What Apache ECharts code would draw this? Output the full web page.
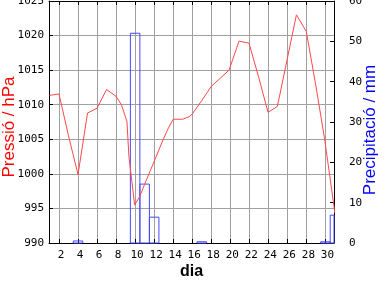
<!DOCTYPE html>
<html><head><meta charset="utf-8">
<script src="https://cdn.jsdelivr.net/npm/echarts@6/dist/echarts.min.js"></script>
<style>html,body{margin:0;padding:0;background:#fff}#c{width:384px;height:288px}</style>
</head><body><div id="c"></div>
<script>
// Pressure readings (day of month, hPa)
const pressureDays = [1,2,3,4,5,6,7,8,8.56,9.14,9.35,9.95,10.48,11,12,12.93,13.45,14,15,15.73,16.08,17,18,19,19.87,20.92,21.97,23,23.97,24.95,26.95,27.99,29,29.93,31];
const pressure = [1011.35,1011.55,1005.5,999.9,1008.8,1009.5,1012.2,1011.2,1010.0,1007.6,1002.5,995.5,996.7,998.5,1001.8,1004.9,1006.5,1007.9,1007.9,1008.3,1008.8,1010.6,1012.65,1013.9,1015.0,1019.2,1018.9,1013.9,1008.9,1009.75,1023.0,1020.6,1012.7,1004.9,994.3];
// Precipitation (day of month, mm)
const rainDays = [4,10,11,12,17,30,31];
const rain = [0.5,52,14.6,6.4,0.3,0.3,6.9];
// Axis settings
const dayRange = [0.95, 30.9];
const pressureRange = [990, 1025, 5];
const rainRange = [0, 60, 10];
const xName = 'dia';
const yLeftName = 'Pressió / hPa';
const yRightName = 'Precipitació / mm';

const mono = 'DejaVu Sans Mono';
const black = '#000';
const plain = v => String(Math.round(v));
const chart = echarts.init(document.getElementById('c'), null, {renderer:'canvas'});
const tickStyle = {show:true, inside:true, length:4, lineStyle:{color:black, width:1}};

function renderRainBar(params, api) {
  const d = api.value(0), v = api.value(1);
  const p0 = api.coord([d - 0.5, 0]);
  const p1 = api.coord([d + 0.5, v]);
  const rect = echarts.graphic.clipRectByRect(
    {x: p0[0], y: p1[1], width: p1[0] - p0[0], height: p0[1] - p1[1]},
    {x: params.coordSys.x, y: params.coordSys.y, width: params.coordSys.width, height: params.coordSys.height}
  );
  if (!rect) return null;
  return {type:'rect', shape:rect, style:{fill:'none', stroke:'#4848ff', lineWidth:1}};
}

chart.setOption({
  animation:false,
  backgroundColor:'#fff',
  grid:{left:49, right:50, top:1, bottom:45, containLabel:false, outerBoundsMode:'none'},
  xAxis:[{
    type:'value', min:dayRange[0], max:dayRange[1], splitNumber:15, position:'bottom',
    axisLine:{show:true, onZero:false, lineStyle:{color:black, width:1}},
    axisTick:tickStyle,
    axisLabel:{show:true, showMinLabel:false, showMaxLabel:false, margin:7, color:black, fontFamily:mono, fontSize:11, formatter:plain, padding:[0,0,0,4]},
    splitLine:{show:true, lineStyle:{color:'#a0a0a0', width:1}},
    name:xName, nameLocation:'middle', nameGap:21, nameMoveOverlap:false,
    nameTextStyle:{color:black, fontSize:16, fontWeight:'bold', fontFamily:'Liberation Sans'}
  },{
    type:'value', min:dayRange[0], max:dayRange[1], splitNumber:15, position:'top',
    axisLine:{show:true, onZero:false, lineStyle:{color:black, width:1}},
    axisTick:tickStyle, axisLabel:{show:false}, splitLine:{show:false}
  }],
  yAxis:[{
    type:'value', min:pressureRange[0], max:pressureRange[1], interval:pressureRange[2], position:'left',
    axisLine:{show:true, onZero:false, lineStyle:{color:black, width:1}},
    axisTick:tickStyle,
    axisLabel:{margin:5, color:black, fontFamily:mono, fontSize:11, formatter:plain},
    splitLine:{show:true, lineStyle:{color:'#a0a0a0', width:1}},
    name:yLeftName, nameLocation:'middle', nameRotate:90, nameGap:31, nameMoveOverlap:false,
    nameTextStyle:{color:'#ff0000', fontSize:17, fontFamily:'Liberation Sans', padding:[0,10,0,0]}
  },{
    type:'value', min:rainRange[0], max:rainRange[1], interval:rainRange[2], position:'right',
    axisLine:{show:true, onZero:false, lineStyle:{color:black, width:1}},
    axisTick:tickStyle,
    axisLabel:{margin:15, color:black, fontFamily:mono, fontSize:11, formatter:plain},
    splitLine:{show:false},
    name:yRightName, nameLocation:'middle', nameRotate:90, nameGap:28, nameMoveOverlap:false,
    nameTextStyle:{color:'#0000ff', fontSize:17, fontFamily:'Liberation Sans', padding:[0,16,0,0]}
  }],
  series:[{
    type:'custom', xAxisIndex:0, yAxisIndex:1, renderItem:renderRainBar,
    encode:{x:0, y:1},
    data:rainDays.map((d,i)=>[d, rain[i]]),
    z:2
  },{
    type:'line', xAxisIndex:0, yAxisIndex:0, symbol:'none', clip:true,
    data:pressureDays.map((d,i)=>[d, pressure[i]]),
    lineStyle:{color:'#ff4848', width:1},
    z:3
  }]
});
</script></body></html>
